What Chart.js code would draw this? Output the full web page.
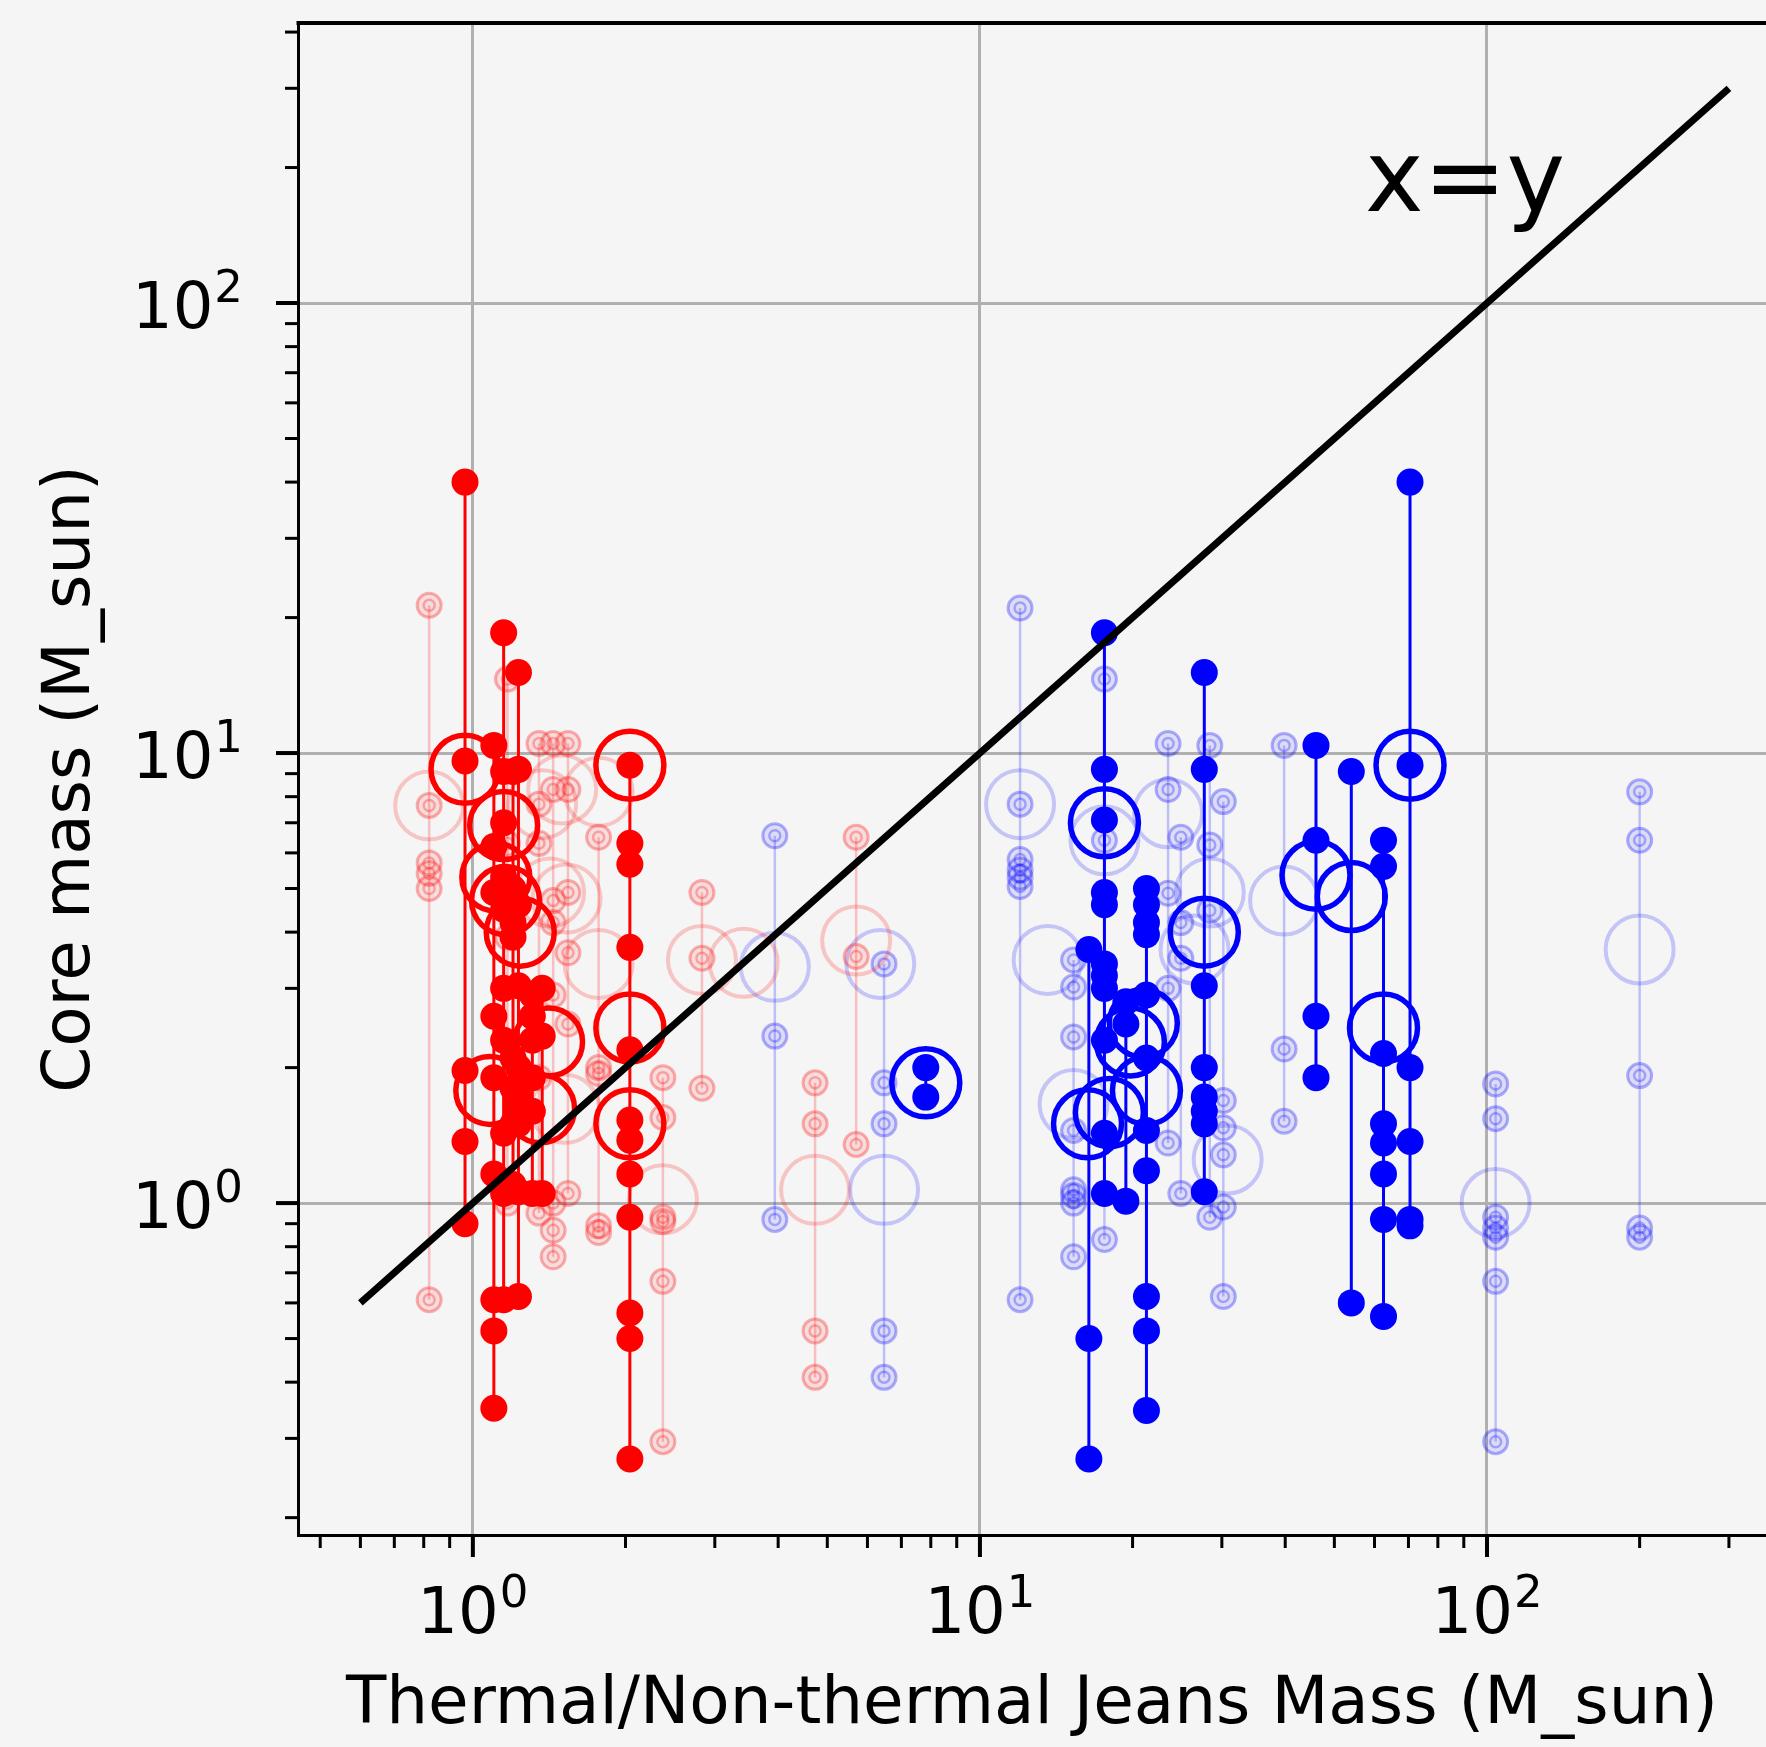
<!DOCTYPE html>
<html>
<head>
<meta charset="utf-8">
<script src="https://cdn.jsdelivr.net/npm/chart.js@4.4.0/dist/chart.umd.min.js"></script>
<style>
  html, body { margin: 0; padding: 0; background: #f5f5f5; }
</style>
</head>
<body>
<canvas id="chart" width="1766" height="1747"></canvas>
<script>
// axis ticks: value, base and exponent of the label
const xTickValues = [1, 10, 100];
const xTickLabels = [['10', '0'], ['10', '1'], ['10', '2']];
const yTickValues = [1, 10, 100];
const yTickLabels = [['10', '0'], ['10', '1'], ['10', '2']];

// thermal Jeans mass (red), strong clumps: x of each column, core masses on it
const redBoldX = [0.965, 1.10, 1.15, 1.20, 1.23, 1.31, 1.37, 2.04];
const redBoldCores = [
    [40, 9.6, 1.97, 1.37, 0.9],
    [10.4, 6.2, 4.9, 2.6, 1.9, 1.16, 0.61, 0.52, 0.35],
    [18.5, 9.1, 7.0, 5.3, 4.5, 3.0, 2.3, 1.43, 1.05, 0.61],
    [9.1, 5.0, 4.2, 3.9, 2.1, 1.8, 1.5, 1.1],
    [15.1, 9.2, 4.6, 3.04, 2.0, 1.72, 1.6, 1.5, 1.06, 0.62],
    [2.9, 2.6, 2.3, 1.9, 1.6, 1.05],
    [3.0, 2.35, 1.05],
    [9.4, 6.3, 5.66, 3.7, 2.19, 1.53, 1.38, 1.16, 0.93, 0.57, 0.5, 0.27]
];
const redBoldRingX = [0.965, 1.15, 1.11, 1.16, 1.24, 1.41, 1.36, 1.08, 2.04, 2.04, 2.04];
const redBoldRingY = [9.2, 6.9, 5.3, 4.7, 4.0, 2.28, 1.62, 1.78, 9.4, 2.45, 1.5];

// thermal Jeans mass (red), faint clumps
const redFaintX = [0.82, 1.17, 1.35, 1.44, 1.54, 1.77, 2.37, 2.83, 4.73, 5.7];
const redFaintCores = [
    [21.3, 7.65, 5.7, 5.4, 5.0, 0.61],
    [14.6, 6.3, 3.9, 1.0],
    [10.5, 7.7, 6.3, 1.9, 1.05, 0.95],
    [10.5, 8.3, 4.7, 4.2, 2.9, 1.0, 0.87, 0.76],
    [10.5, 8.3, 4.9, 3.6, 2.5, 1.05],
    [6.5, 2.0, 1.94, 0.89, 0.86],
    [1.9, 1.55, 0.93, 0.91, 0.67, 0.295],
    [4.9, 3.5, 1.8],
    [1.85, 1.5, 0.52, 0.41],
    [6.5, 3.53, 1.35]
];
const redFaintRingX = [0.82, 1.37, 1.50, 1.77, 1.42, 1.53, 1.77, 2.37, 2.83, 3.42, 5.7, 4.73, 1.52];
const redFaintRingY = [7.65, 7.7, 8.3, 8.2, 4.9, 4.75, 3.4, 1.02, 3.47, 3.42, 3.83, 1.07, 1.62];

// non-thermal Jeans mass (blue), strong clumps
const blueBoldX = [7.82, 16.4, 17.6, 19.4, 21.3, 27.7, 46, 54, 62.5, 70.5];
const blueBoldCores = [
    [2.0, 1.72],
    [3.66, 0.5, 0.27],
    [18.5, 9.2, 7.1, 4.9, 4.6, 3.4, 3.2, 3.0, 2.3, 1.43, 1.05],
    [2.8, 2.5, 1.01],
    [5.0, 4.6, 4.2, 3.95, 2.9, 2.1, 1.45, 1.18, 0.62, 0.52, 0.346],
    [15.1, 9.2, 3.04, 2.0, 1.72, 1.6, 1.5, 1.06],
    [10.4, 6.4, 2.6, 1.9],
    [9.1, 0.6],
    [6.4, 5.6, 2.15, 1.5, 1.36, 1.16, 0.92, 0.56],
    [40, 9.4, 2.0, 1.37, 0.92, 0.89]
];
const blueBoldRingX = [7.82, 17.6, 16.3, 18.0, 19.8, 21.0, 21.3, 27.7, 46, 54, 62.5, 70.5];
const blueBoldRingY = [1.85, 7.0, 1.5, 1.59, 2.28, 2.51, 1.78, 4.0, 5.35, 4.8, 2.45, 9.4];

// non-thermal Jeans mass (blue), faint clumps
const blueFaintX = [3.94, 6.47, 12.0, 15.3, 17.6, 23.5, 24.9, 28.4, 30.2, 39.8, 104, 200];
const blueFaintCores = [
    [6.55, 2.35, 0.92],
    [3.4, 1.85, 1.5, 0.52, 0.41],
    [21, 7.7, 5.8, 5.5, 5.3, 5.05, 0.61],
    [3.47, 3.02, 2.34, 1.45, 1.07, 1.04, 1.0, 0.76],
    [14.6, 6.4, 0.83],
    [10.5, 8.3, 4.88, 3.0, 1.36],
    [6.5, 4.2, 3.5, 1.05],
    [10.4, 6.25, 4.47, 0.93],
    [7.8, 1.69, 1.47, 1.28, 0.98, 0.62],
    [10.4, 2.2, 1.52],
    [1.84, 1.54, 0.93, 0.88, 0.84, 0.67, 0.295],
    [8.2, 6.4, 1.92, 0.88, 0.84]
];
const blueFaintRingX = [3.94, 6.36, 6.47, 12.0, 13.6, 15.3, 17.6, 23.5, 28.4, 26.5, 30.8, 39.8, 104, 200];
const blueFaintRingY = [3.35, 3.4, 1.07, 7.7, 3.47, 1.66, 6.4, 7.35, 4.9, 3.66, 1.25, 4.7, 1.0, 3.66];

// one-to-one line and its label
const unityX = [0.6, 300];
const unityY = [0.6, 300];
const unityLabel = 'x=y';
const unityLabelAt = [90.5, 160];

const FONT = '"DejaVu Sans", "Liberation Sans", sans-serif';

function columns(xs, cores) {
    const pts = [];
    xs.forEach((x, i) => {
        cores[i].forEach(y => pts.push({x: x, y: y}));
        pts.push({x: x, y: null});
    });
    return pts;
}
function points(xs, cores) {
    const pts = [];
    xs.forEach((x, i) => cores[i].forEach(y => pts.push({x: x, y: y})));
    return pts;
}
function pairs(xs, ys) {
    return xs.map((x, i) => ({x: x, y: ys[i]}));
}

function seriesSets(rgb, xs, cores, ringX, ringY, faint, base) {
    const c = a => `rgba(${rgb},${a})`;
    const sets = [];
    sets.push({
        data: columns(xs, cores), showLine: true, spanGaps: false, pointRadius: 0,
        borderColor: faint ? c(0.22) : c(1), borderWidth: faint ? 2.5 : 3, order: base + 3
    });
    sets.push({
        data: pairs(ringX, ringY), showLine: false, pointRadius: 34,
        pointBackgroundColor: 'rgba(0,0,0,0)', pointBorderColor: faint ? c(0.2) : c(1),
        pointBorderWidth: faint ? 4 : 5.5, order: base + 2
    });
    sets.push({
        data: points(xs, cores), showLine: false, pointRadius: faint ? 12 : 13.5,
        pointBackgroundColor: faint ? c(0.1) : c(1), pointBorderColor: faint ? c(0.3) : c(1),
        pointBorderWidth: faint ? 3 : 0, order: base + 1
    });
    if (faint) {
        sets.push({
            data: points(xs, cores), showLine: false, pointRadius: 5.5,
            pointBackgroundColor: 'rgba(0,0,0,0)', pointBorderColor: c(0.28),
            pointBorderWidth: 2.5, order: base
        });
    }
    return sets;
}

// pin the plot area: no extra padding from the tick labels
function pinScale(s, size) {
    if (s.isHorizontal()) s.height = size; else s.width = size;
    s.paddingTop = 0;
    s.paddingBottom = 0;
    s.paddingLeft = 0;
    s.paddingRight = 0;
}

// "10" with a raised exponent, like matplotlib's mathtext labels
function powerLabel(ctx, parts, left, baseline) {
    ctx.font = '64px ' + FONT;
    ctx.fillText(parts[0], left, baseline);
    const w = ctx.measureText(parts[0]).width;
    ctx.font = '45px ' + FONT;
    ctx.fillText(parts[1], left + w + 1, baseline - 26);
}
function powerWidth(ctx, parts) {
    ctx.font = '64px ' + FONT;
    const w = ctx.measureText(parts[0]).width;
    ctx.font = '45px ' + FONT;
    return w + 1 + ctx.measureText(parts[1]).width;
}

const axisDecor = {
    id: 'axisDecor',
    afterDraw(chart) {
        const {ctx, chartArea: a, scales: {x, y}} = chart;
        ctx.save();
        ctx.strokeStyle = '#000';
        ctx.lineWidth = 4;
        ctx.beginPath();
        ctx.moveTo(a.left - 1.5, a.top);
        ctx.lineTo(a.right, a.top);
        ctx.stroke();
        for (let e = -1; e <= 2; e++) {
            for (let m = 1; m <= 9; m++) {
                const v = m * Math.pow(10, e);
                const major = m === 1;
                ctx.lineWidth = major ? 4 : 3;
                if (v >= x.min && v <= x.max) {
                    const px = x.getPixelForValue(v);
                    ctx.beginPath();
                    ctx.moveTo(px, a.bottom);
                    ctx.lineTo(px, a.bottom + (major ? 22 : 13));
                    ctx.stroke();
                }
                if (v >= y.min && v <= y.max) {
                    const py = y.getPixelForValue(v);
                    ctx.beginPath();
                    ctx.moveTo(a.left, py);
                    ctx.lineTo(a.left - (major ? 22 : 13), py);
                    ctx.stroke();
                }
            }
        }
        ctx.fillStyle = '#000';
        ctx.textAlign = 'left';
        ctx.textBaseline = 'alphabetic';
        xTickValues.forEach((v, i) => {
            const w = powerWidth(ctx, xTickLabels[i]);
            powerLabel(ctx, xTickLabels[i], x.getPixelForValue(v) - w / 2, a.bottom + 98);
        });
        yTickValues.forEach((v, i) => {
            const w = powerWidth(ctx, yTickLabels[i]);
            powerLabel(ctx, yTickLabels[i], a.left - 55 - w, y.getPixelForValue(v) + 25);
        });
        ctx.font = '99px ' + FONT;
        ctx.textAlign = 'center';
        ctx.fillText(unityLabel, x.getPixelForValue(unityLabelAt[0]), y.getPixelForValue(unityLabelAt[1]));
        ctx.restore();
    }
};

const datasets = [].concat(
    [{
        data: pairs(unityX, unityY), showLine: true, pointRadius: 0,
        borderColor: '#000', borderWidth: 7, order: 0
    }],
    seriesSets('255,0,0', redBoldX, redBoldCores, redBoldRingX, redBoldRingY, false, 10),
    seriesSets('0,0,255', blueBoldX, blueBoldCores, blueBoldRingX, blueBoldRingY, false, 20),
    seriesSets('255,0,0', redFaintX, redFaintCores, redFaintRingX, redFaintRingY, true, 30),
    seriesSets('0,0,255', blueFaintX, blueFaintCores, blueFaintRingX, blueFaintRingY, true, 40)
);

new Chart(document.getElementById('chart'), {
    type: 'scatter',
    data: {datasets: datasets},
    options: {
        responsive: false,
        devicePixelRatio: 1,
        animation: false,
        events: [],
        layout: {autoPadding: false, padding: {top: 23, right: 0, bottom: 0, left: 0}},
        plugins: {legend: {display: false}, tooltip: {enabled: false}},
        scales: {
            x: {
                type: 'logarithmic',
                position: 'bottom',
                min: 0.452,
                max: 355,
                afterBuildTicks: s => { s.ticks = xTickValues.map(v => ({value: v})); },
                afterFit: s => pinScale(s, 212),
                ticks: {display: false},
                grid: {color: '#b0b0b0', lineWidth: 3, drawTicks: false},
                border: {display: true, color: '#000', width: 3},
                title: {
                    display: true, text: 'Thermal/Non-thermal Jeans Mass (M_sun)', color: '#000',
                    font: {family: FONT, size: 66}, padding: {bottom: 2}
                }
            },
            y: {
                type: 'logarithmic',
                position: 'left',
                min: 0.183,
                max: 419,
                afterBuildTicks: s => { s.ticks = yTickValues.map(v => ({value: v})); },
                afterFit: s => pinScale(s, 298),
                ticks: {display: false},
                grid: {color: '#b0b0b0', lineWidth: 3, drawTicks: false},
                border: {display: true, color: '#000', width: 3},
                title: {
                    display: true, text: 'Core mass (M_sun)', color: '#000',
                    font: {family: FONT, size: 66}, padding: {top: 32}
                }
            }
        }
    },
    plugins: [axisDecor]
});
</script>
</body>
</html>
